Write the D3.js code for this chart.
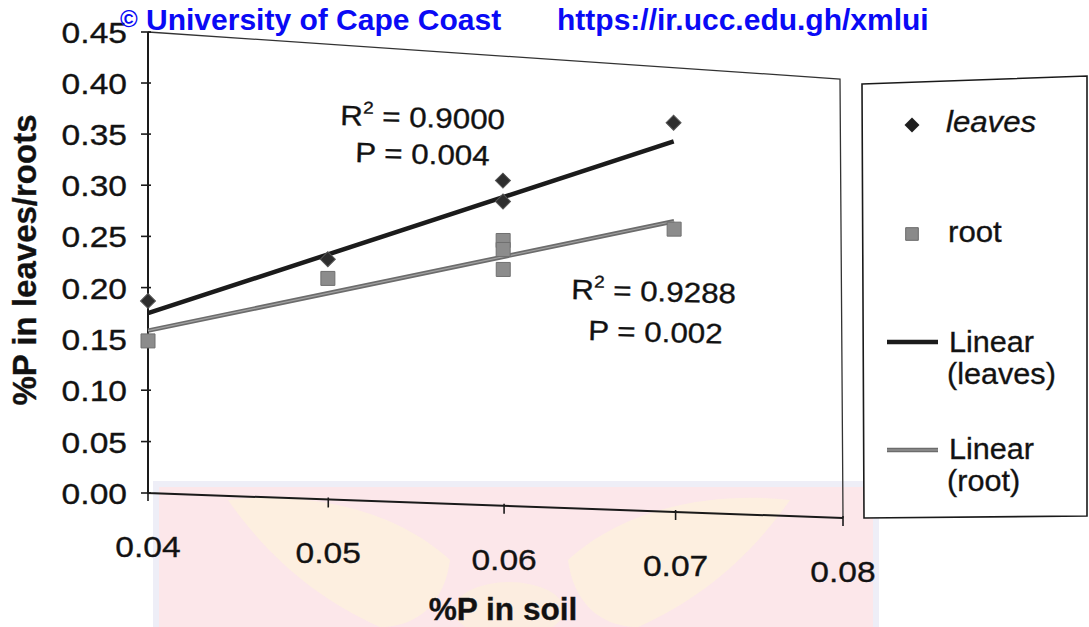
<!DOCTYPE html>
<html>
<head>
<meta charset="utf-8">
<script src="https://cdn.jsdelivr.net/npm/d3@7"></script>
<style>
  html, body { margin: 0; padding: 0; background: #fff; overflow: hidden; }
  svg { display: block; }
  text { font-family: "Liberation Sans", Arial, Helvetica, sans-serif; fill: #111; }
  .ink text { stroke: #222; stroke-width: 0.35px; }
</style>
</head>
<body>
<svg id="chart" width="1089" height="627"></svg>
<script>
// ---- data -------------------------------------------------------------
const leavesX = [0.04, 0.05, 0.06, 0.06, 0.07];
const leavesY = [0.187, 0.237, 0.325, 0.304, 0.394];

const rootX = [0.04, 0.05, 0.06, 0.06, 0.06, 0.07];
const rootY = [0.148, 0.218, 0.265, 0.256, 0.236, 0.286];

// linear trend lines (end points)
const leavesFitX = [0.04, 0.07];
const leavesFitY = [0.175, 0.375];
const rootFitX = [0.04, 0.07];
const rootFitY = [0.158, 0.294];

const xTickValues = [0.04, 0.05, 0.06, 0.07, 0.08];
const xTickLabels = ["0.04", "0.05", "0.06", "0.07", "0.08"];
const yTickValues = [0, 0.05, 0.10, 0.15, 0.20, 0.25, 0.30, 0.35, 0.40, 0.45];
const yTickLabels = ["0.00", "0.05", "0.10", "0.15", "0.20", "0.25", "0.30", "0.35", "0.40", "0.45"];

const leavesStats = ["0.9000", "0.004"];
const rootStats = ["0.9288", "0.002"];

// ---- geometry ---------------------------------------------------------
const svg = d3.select("#chart");

// plot-area corners on the page: (0,0) bottom-left, (1,0) bottom-right,
// (1,1) top-right, (0,1) top-left  -- the printed page is slightly tilted
const corners = [[148, 493], [843, 518], [840, 79], [148, 32]];

function quadMap(p0, p1, p2, p3) {
  const dx1 = p1[0] - p2[0], dx2 = p3[0] - p2[0], dx3 = p0[0] - p1[0] + p2[0] - p3[0];
  const dy1 = p1[1] - p2[1], dy2 = p3[1] - p2[1], dy3 = p0[1] - p1[1] + p2[1] - p3[1];
  const den = dx1 * dy2 - dx2 * dy1;
  const g = (dx3 * dy2 - dx2 * dy3) / den;
  const h = (dx1 * dy3 - dx3 * dy1) / den;
  const a = p1[0] - p0[0] + g * p1[0], b = p3[0] - p0[0] + h * p3[0], c = p0[0];
  const d = p1[1] - p0[1] + g * p1[1], e = p3[1] - p0[1] + h * p3[1], f = p0[1];
  return (u, v) => {
    const w = g * u + h * v + 1;
    return [(a * u + b * v + c) / w, (d * u + e * v + f) / w];
  };
}
const warp = quadMap(...corners);

const x = d3.scaleLinear().domain([0.04, 0.08]).range([0, 1]);
const y = d3.scaleLinear().domain([0, 0.45]).range([0, 1]);
const P = (xv, yv) => warp(x(xv), y(yv));

// text helper with a slight horizontal stretch
function label(parent, px, py, str, opts = {}) {
  const sx = opts.sx || 1;
  return parent.append("text")
    .attr("transform", `translate(${px},${py}) rotate(${opts.rot || 0}) scale(${sx},1)`)
    .attr("font-size", opts.size || 30)
    .attr("font-weight", opts.weight || "normal")
    .attr("font-style", opts.style || "normal")
    .attr("text-anchor", opts.anchor || "start")
    .text(str);
}

// ---- faint logo watermark behind the x axis ---------------------------
const logo = svg.append("g").attr("class", "logo");
logo.append("rect")
  .attr("x", 156).attr("y", 484).attr("width", 720).attr("height", 150)
  .attr("fill", "#fce7ea").attr("stroke", "#eeeef7").attr("stroke-width", 6);
logo.append("path")
  .attr("d", "M228,500 C300,492 390,505 450,560 C445,600 420,627 380,627 C320,600 270,560 228,500 Z")
  .attr("fill", "#fdf2dc").attr("opacity", 0.75);
logo.append("path")
  .attr("d", "M790,500 C718,492 628,505 568,560 C573,600 598,627 638,627 C698,600 748,560 790,500 Z")
  .attr("fill", "#fdf2dc").attr("opacity", 0.75);
logo.append("ellipse")
  .attr("cx", 509).attr("cy", 610).attr("rx", 55).attr("ry", 28)
  .attr("fill", "#fcefdc").attr("opacity", 0.75);

// ---- plot frame -------------------------------------------------------
const ink = svg.append("g").attr("class", "ink");
const frame = ink.append("g").attr("class", "frame");
const line = d3.line();
// top and right borders (thin)
frame.append("path")
  .attr("d", line([P(0.04, 0.45), P(0.08, 0.45), P(0.08, 0)]))
  .attr("fill", "none").attr("stroke", "#333").attr("stroke-width", 1.3);
// axes
frame.append("path")
  .attr("d", line([P(0.04, 0.45), P(0.04, 0), P(0.08, 0)]))
  .attr("fill", "none").attr("stroke", "#1a1a1a").attr("stroke-width", 2);

// y axis ticks and labels
const yAxis = ink.append("g").attr("class", "y-axis");
yTickValues.forEach((v, i) => {
  const [px, py] = P(0.04, v);
  yAxis.append("line")
    .attr("x1", px - 7).attr("x2", px + 3).attr("y1", py).attr("y2", py)
    .attr("stroke", "#1a1a1a").attr("stroke-width", 1.6);
  label(yAxis, px - 21, py + 11, yTickLabels[i], { size: 30, sx: 1.12, anchor: "end" });
});

// x axis ticks and labels
const xAxis = ink.append("g").attr("class", "x-axis");
xTickValues.forEach((v, i) => {
  const [px, py] = P(v, 0);
  xAxis.append("line")
    .attr("x1", px).attr("x2", px).attr("y1", py - 2).attr("y2", py + 8)
    .attr("stroke", "#1a1a1a").attr("stroke-width", 1.6);
  label(xAxis, px, py + 64, xTickLabels[i], { size: 30, sx: 1.12, anchor: "middle" });
});

// axis titles
label(ink, 503, 620, "%P in soil", { size: 31, weight: "bold", sx: 1.02, anchor: "middle" });
ink.append("text")
  .attr("transform", "translate(36,260) rotate(-90)")
  .attr("font-size", 33).attr("font-weight", "bold")
  .attr("text-anchor", "middle")
  .text("%P in leaves/roots");

// ---- trend lines ------------------------------------------------------
const marks = svg.append("g").attr("class", "marks");
const leavesFit = leavesFitX.map((v, i) => P(v, leavesFitY[i]));
const rootFit = rootFitX.map((v, i) => P(v, rootFitY[i]));

marks.append("path").attr("d", line(rootFit))
  .attr("fill", "none").attr("stroke", "#6c6c6c").attr("stroke-width", 4.5);
marks.append("path").attr("d", line(rootFit))
  .attr("fill", "none").attr("stroke", "#a2a2a2").attr("stroke-width", 1.2);
marks.append("path").attr("d", line(leavesFit))
  .attr("fill", "none").attr("stroke", "#1b1b1b").attr("stroke-width", 4.5);

// ---- points -----------------------------------------------------------
const diamond = d3.symbol().type(d3.symbolSquare).size(112)();
const square = d3.symbol().type(d3.symbolSquare).size(196)();

rootX.forEach((v, i) => {
  const [px, py] = P(v, rootY[i]);
  marks.append("path").attr("d", square)
    .attr("transform", `translate(${px},${py})`)
    .attr("fill", "#8c8c8c").attr("stroke", "#707070").attr("stroke-width", 1);
});
leavesX.forEach((v, i) => {
  const [px, py] = P(v, leavesY[i]);
  marks.append("path").attr("d", diamond)
    .attr("transform", `translate(${px},${py}) rotate(45)`)
    .attr("fill", "#2e2e2e").attr("stroke", "#555").attr("stroke-width", 1);
});

// ---- regression annotations ------------------------------------------
function statBlock(x1, y1, x2, y2, stats) {
  const t1 = ink.append("text")
    .attr("transform", `translate(${x1},${y1}) rotate(1.5) scale(1.12,1)`)
    .attr("font-size", 28);
  t1.append("tspan").text("R");
  t1.append("tspan").attr("font-size", 17).attr("dy", -12).text("2");
  t1.append("tspan").attr("dy", 12).text(" = " + stats[0]);
  ink.append("text")
    .attr("transform", `translate(${x2},${y2}) rotate(1.5) scale(1.12,1)`)
    .attr("font-size", 28)
    .text("P = " + stats[1]);
}
statBlock(340, 125, 355, 162, leavesStats);
statBlock(571, 299, 588, 340, rootStats);

// ---- legend -----------------------------------------------------------
const legend = ink.append("g").attr("class", "legend");
legend.append("path")
  .attr("d", line([[862, 84], [1087, 76], [1087, 516], [864, 518]]) + "Z")
  .attr("fill", "#fff").attr("stroke", "#1a1a1a").attr("stroke-width", 1.6);

legend.append("path").attr("d", diamond)
  .attr("transform", "translate(912,125) rotate(45)")
  .attr("fill", "#1e1e1e");
label(legend, 946, 132, "leaves", { size: 30, style: "italic", sx: 1.04 });

legend.append("path").attr("d", d3.symbol().type(d3.symbolSquare).size(160)())
  .attr("transform", "translate(912,234)")
  .attr("fill", "#8a8a8a").attr("stroke", "#6a6a6a");
label(legend, 948, 242, "root", { size: 30, sx: 1.04 });

legend.append("line")
  .attr("x1", 887).attr("x2", 938).attr("y1", 342).attr("y2", 342)
  .attr("stroke", "#1b1b1b").attr("stroke-width", 4.5);
label(legend, 949, 352, "Linear", { size: 30, sx: 1.02 });
label(legend, 947, 384, "(leaves)", { size: 30, sx: 1.02 });

legend.append("line")
  .attr("x1", 887).attr("x2", 938).attr("y1", 450).attr("y2", 450)
  .attr("stroke", "#6c6c6c").attr("stroke-width", 4.5);
legend.append("line")
  .attr("x1", 887).attr("x2", 938).attr("y1", 450).attr("y2", 450)
  .attr("stroke", "#a2a2a2").attr("stroke-width", 1.2);
label(legend, 949, 459, "Linear", { size: 30, sx: 1.02 });
label(legend, 947, 491, "(root)", { size: 30, sx: 1.02 });

// ---- repository notice ------------------------------------------------
const notice = svg.append("g").attr("class", "notice");
const n1 = notice.append("text")
  .attr("x", 120).attr("y", 30)
  .attr("font-size", 30).attr("font-weight", "bold")
  .style("fill", "#0a0af5");
n1.append("tspan").attr("font-size", 24).attr("dy", -3).text("©");
n1.append("tspan").attr("dy", 3).text(" University of Cape Coast");
notice.append("text")
  .attr("x", 557).attr("y", 30)
  .attr("font-size", 30).attr("font-weight", "bold")
  .style("fill", "#0a0af5")
  .text("https://ir.ucc.edu.gh/xmlui");
</script>
</body>
</html>
